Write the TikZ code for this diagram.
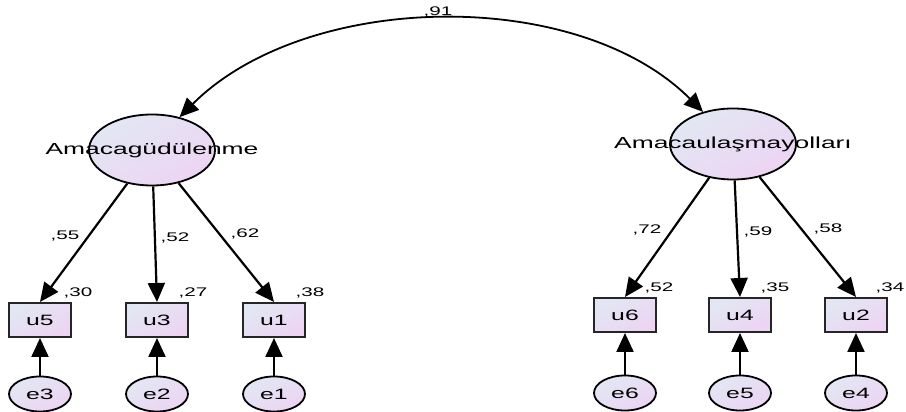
\documentclass[tikz,border=0pt]{standalone}
\usepackage{fontspec}
\setmainfont[FakeStretch=1.65]{Liberation Sans}
\usetikzlibrary{shapes.geometric,arrows.meta}
\definecolor{shadetop}{RGB}{226,231,243}
\definecolor{shadebot}{RGB}{237,212,243}

\begin{document}
\begin{tikzpicture}[x=1pt,y=1pt,
  >={Triangle[length=19pt,width=17pt]},
  every node/.style = {inner sep=0pt},
  latent/.style = {ellipse, draw, line width=1.8pt,
    minimum width=126pt, minimum height=71pt,
    top color=shadetop, bottom color=shadebot, shading angle=30},
  lattext/.style = {font=\fontsize{16}{18}\selectfont},
  obs/.style = {rectangle, draw=black!85, line width=2pt,
    minimum width=62pt, minimum height=34pt,
    top color=shadetop, bottom color=shadebot, shading angle=30,
    font=\fontsize{15}{17}\selectfont},
  err/.style = {ellipse, draw, line width=1.8pt,
    minimum width=62pt, minimum height=35pt,
    top color=shadetop, bottom color=shadebot, shading angle=30,
    font=\fontsize{15}{17}\selectfont},
  coef/.style = {font=\fontsize{12.5}{14}\selectfont},
  path/.style = {->, line width=2.2pt}]
  \useasboundingbox (0,0) rectangle (906,412);

  % latent variables
  \node[latent] (amac) at (152,262) {};
  \node[latent] (yol) at (733,268) {};

  % observed variables
  \node[obs] (u5) at (40,92) {u5};
  \node[obs] (u3) at (157,92) {u3};
  \node[obs] (u1) at (274,92) {u1};
  \node[obs] (u6) at (625,97) {u6};
  \node[obs] (u4) at (740,97) {u4};
  \node[obs] (u2) at (856,97) {u2};

  % error terms
  \node[err] (e3) at (40,18) {e3};
  \node[err] (e2) at (157,18) {e2};
  \node[err] (e1) at (274,18) {e1};
  \node[err] (e6) at (625,19) {e6};
  \node[err] (e5) at (740,19) {e5};
  \node[err] (e4) at (856,19) {e4};

  % covariance
  \draw[<->, line width=1.8pt] (amac.50) to[out=45,in=135,looseness=0.87] (yol.133);

  % loadings
  \draw[path] (amac) -- (u5.north);
  \draw[path] (amac) -- (u3.north);
  \draw[path] (amac) -- (u1.north);
  \draw[path] (yol) -- (u6.north);
  \draw[path] (yol) -- (u4.north);
  \draw[path] (yol) -- (u2.north);

  \draw[path] (e3) -- (u5);
  \draw[path] (e2) -- (u3);
  \draw[path] (e1) -- (u1);
  \draw[path] (e6) -- (u6);
  \draw[path] (e5) -- (u4);
  \draw[path] (e4) -- (u2);

  % latent names
  \node[lattext] (amac-t) at (amac) {Amacagüdülenme};
  \node[lattext] (yol-t) at (yol) {Amacaulaşmayolları};

  % estimates
  \node[coef] (c91) at (438,400) {,91};
  \node[coef] (c55) at (65,176) {,55};
  \node[coef] (c52a) at (175,174) {,52};
  \node[coef] (c62) at (245,178) {,62};
  \node[coef] (c72) at (647,182) {,72};
  \node[coef] (c59) at (758,180) {,59};
  \node[coef] (c58) at (828,183) {,58};
  \node[coef] (r30) at (78,119) {,30};
  \node[coef] (r27) at (193,119) {,27};
  \node[coef] (r38) at (310,119) {,38};
  \node[coef] (r52) at (659,124) {,52};
  \node[coef] (r35) at (775,124) {,35};
  \node[coef] (r34) at (890,124) {,34};
\end{tikzpicture}
\end{document}
